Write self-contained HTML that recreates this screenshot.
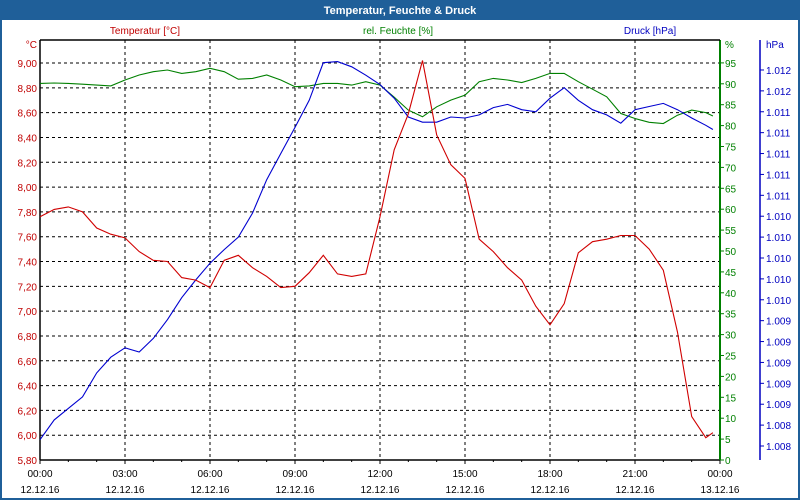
<!DOCTYPE html>
<html><head><meta charset="utf-8"><style>
html,body{margin:0;padding:0;background:#fff}
svg{display:block;font-family:"Liberation Sans",sans-serif}
</style></head><body>
<svg id="chart" width="800" height="500" viewBox="0 0 800 500">
<rect x="0" y="0" width="800" height="500" fill="#1f5f99"/>
<rect x="2" y="20" width="796" height="478" fill="#ffffff"/>
<text x="400" y="14" text-anchor="middle" font-size="11" font-weight="bold" fill="#fff">Temperatur, Feuchte &amp; Druck</text>
<text x="145" y="34" text-anchor="middle" font-size="10" fill="#c00000">Temperatur [°C]</text>
<text x="398" y="34" text-anchor="middle" font-size="10" fill="#008000">rel. Feuchte [%]</text>
<text x="650" y="34" text-anchor="middle" font-size="10" fill="#0000c0">Druck [hPa]</text>
<g id="grid"></g>
<g id="axes"></g>
<g id="series"></g>
</svg>
<script>
const hours = [0,0.5,1,1.5,2,2.5,3,3.5,4,4.5,5,5.5,6,6.5,7,7.5,8,8.5,9,9.5,10,10.5,11,11.5,12,12.5,13,13.5,14,14.5,15,15.5,16,16.5,17,17.5,18,18.5,19,19.5,20,20.5,21,21.5,22,22.5,23,23.5,23.75];
const temperature = [7.76,7.82,7.84,7.80,7.67,7.62,7.59,7.48,7.41,7.40,7.27,7.25,7.19,7.41,7.45,7.35,7.28,7.19,7.20,7.31,7.45,7.30,7.28,7.30,7.76,8.30,8.59,9.02,8.42,8.18,8.07,7.58,7.48,7.35,7.25,7.04,6.89,7.06,7.47,7.56,7.58,7.61,7.61,7.50,7.33,6.83,6.15,5.98,6.02];
const humidity = [90.1,90.2,90.1,89.9,89.7,89.5,90.9,92.1,92.9,93.3,92.5,92.9,93.7,92.9,91.1,91.3,92.1,90.9,89.3,89.5,90.1,90.1,89.7,90.5,89.7,86.8,83.7,82.1,84.5,86.1,87.3,90.5,91.3,90.9,90.3,91.3,92.5,92.5,90.5,88.7,86.9,82.9,81.7,80.8,80.5,82.5,83.7,83.1,82.3];
const pressure = [1008.26,1008.45,1008.56,1008.67,1008.90,1009.05,1009.14,1009.10,1009.23,1009.41,1009.62,1009.79,1009.95,1010.08,1010.20,1010.43,1010.75,1011.00,1011.25,1011.51,1011.87,1011.88,1011.83,1011.75,1011.66,1011.53,1011.35,1011.30,1011.30,1011.35,1011.34,1011.37,1011.44,1011.47,1011.42,1011.40,1011.53,1011.63,1011.51,1011.42,1011.37,1011.29,1011.42,1011.45,1011.48,1011.42,1011.34,1011.27,1011.23];
const tempTicks = [5.8,6.0,6.2,6.4,6.6,6.8,7.0,7.2,7.4,7.6,7.8,8.0,8.2,8.4,8.6,8.8,9.0];
const humTicks = [0,5,10,15,20,25,30,35,40,45,50,55,60,65,70,75,80,85,90,95];
const presTicks = [1008.2,1008.4,1008.6,1008.8,1009.0,1009.2,1009.4,1009.6,1009.8,1010.0,1010.2,1010.4,1010.6,1010.8,1011.0,1011.2,1011.4,1011.6,1011.8];
const timeTicks = ["00:00","03:00","06:00","09:00","12:00","15:00","18:00","21:00","00:00"];
const dateTicks = ["12.12.16","12.12.16","12.12.16","12.12.16","12.12.16","12.12.16","12.12.16","12.12.16","13.12.16"];

const L=40,R=720,T=40,B=460;
const xS = h => L + h*(R-L)/24;
const yT = t => 460 - (t-5.8)*124.06;
const yH = v => 460 - v*4.18;
const yP = p => 446 - (p-1008.2)*104.45;
const NS="http://www.w3.org/2000/svg";
function mk(tag, attrs, parent, txt){const e=document.createElementNS(NS,tag);for(const k in attrs)e.setAttribute(k,attrs[k]);if(txt!==undefined)e.textContent=txt;parent.appendChild(e);return e;}
const grid=document.getElementById('grid'), axes=document.getElementById('axes'), series=document.getElementById('series');

tempTicks.forEach((t,i)=>{
  const y=yT(t);
  if(i>0){const g=mk('line',{x1:L,x2:R,y1:y,y2:y,stroke:'#000','stroke-width':1,'stroke-dasharray':'3,3'},grid);
  
  }
  const tx=mk('text',{x:37,y:y+4,'text-anchor':'end','font-size':10,fill:'#c00000'},axes,t.toFixed(2).replace('.',','));
  
  
});
for(let k=1;k<8;k++){
  const x=xS(k*3);
  const g=mk('line',{x1:x,x2:x,y1:T,y2:B,stroke:'#000','stroke-width':1,'stroke-dasharray':'3,3'},grid);
  
  
}
for(let h=0;h<=24;h++){
  const x=xS(h);
  const tk=mk('line',{x1:x,x2:x,y1:B,y2:B+(h%3===0?4:2),stroke:'#000'},axes);
  
  
}
timeTicks.forEach((s,i)=>{
  const x=xS(i*3);
  const a=mk('text',{x:x,y:477,'text-anchor':'middle','font-size':10,fill:'#000'},axes,s);
  
  
  const b=mk('text',{x:x,y:493,'text-anchor':'middle','font-size':10,fill:'#000'},axes,dateTicks[i]);
  
  
});
humTicks.forEach(v=>{
  const y=yH(v);
  const tk=mk('line',{x1:R,x2:R+4,y1:y,y2:y,stroke:'#008000'},axes);
  
  
  const tx=mk('text',{x:725,y:y+4,'font-size':10,fill:'#008000'},axes,String(v));
  
  
});
presTicks.forEach(p=>{
  const y=yP(p);
  const tk=mk('line',{x1:760,x2:764,y1:y,y2:y,stroke:'#0000c0'},axes);
  
  
  const tx=mk('text',{x:766,y:y+4,'font-size':10,fill:'#0000c0'},axes,(Math.round(p)/1000).toFixed(3));
  
  
});
const ax=[[L,T,L,B,'#000','left-axis'],[L,B,R,B,'#000','x-axis'],[R,T,R,B,'#008000','humidity-axis'],[760,T,760,B,'#0000c0','pressure-axis'],[L,T,R,T,'#000','top-border']];
ax.forEach(a=>{const l=mk('line',{x1:a[0],y1:a[1],x2:a[2],y2:a[3],stroke:a[4],'stroke-width':a[5]==='humidity-axis'?2:1.5},axes);
  
  });
const u1=mk('text',{x:37,y:48,'text-anchor':'end','font-size':10,fill:'#c00000'},axes,'°C');


const u2=mk('text',{x:725,y:48,'font-size':10,fill:'#008000'},axes,'%');


const u3=mk('text',{x:766,y:48,'font-size':10,fill:'#0000c0'},axes,'hPa');



function line(vals, yf, color, name){
  const pts=vals.map((v,i)=>xS(hours[i]).toFixed(1)+','+yf(v).toFixed(1)).join(' ');
  const p=mk('polyline',{points:pts,fill:'none',stroke:color,'stroke-width':1.1},series);
  
  
}
line(humidity,yH,'#008000','humidity-line');
line(pressure,yP,'#0000d0','pressure-line');
line(temperature,yT,'#d00000','temperature-line');
</script>
</body></html>
